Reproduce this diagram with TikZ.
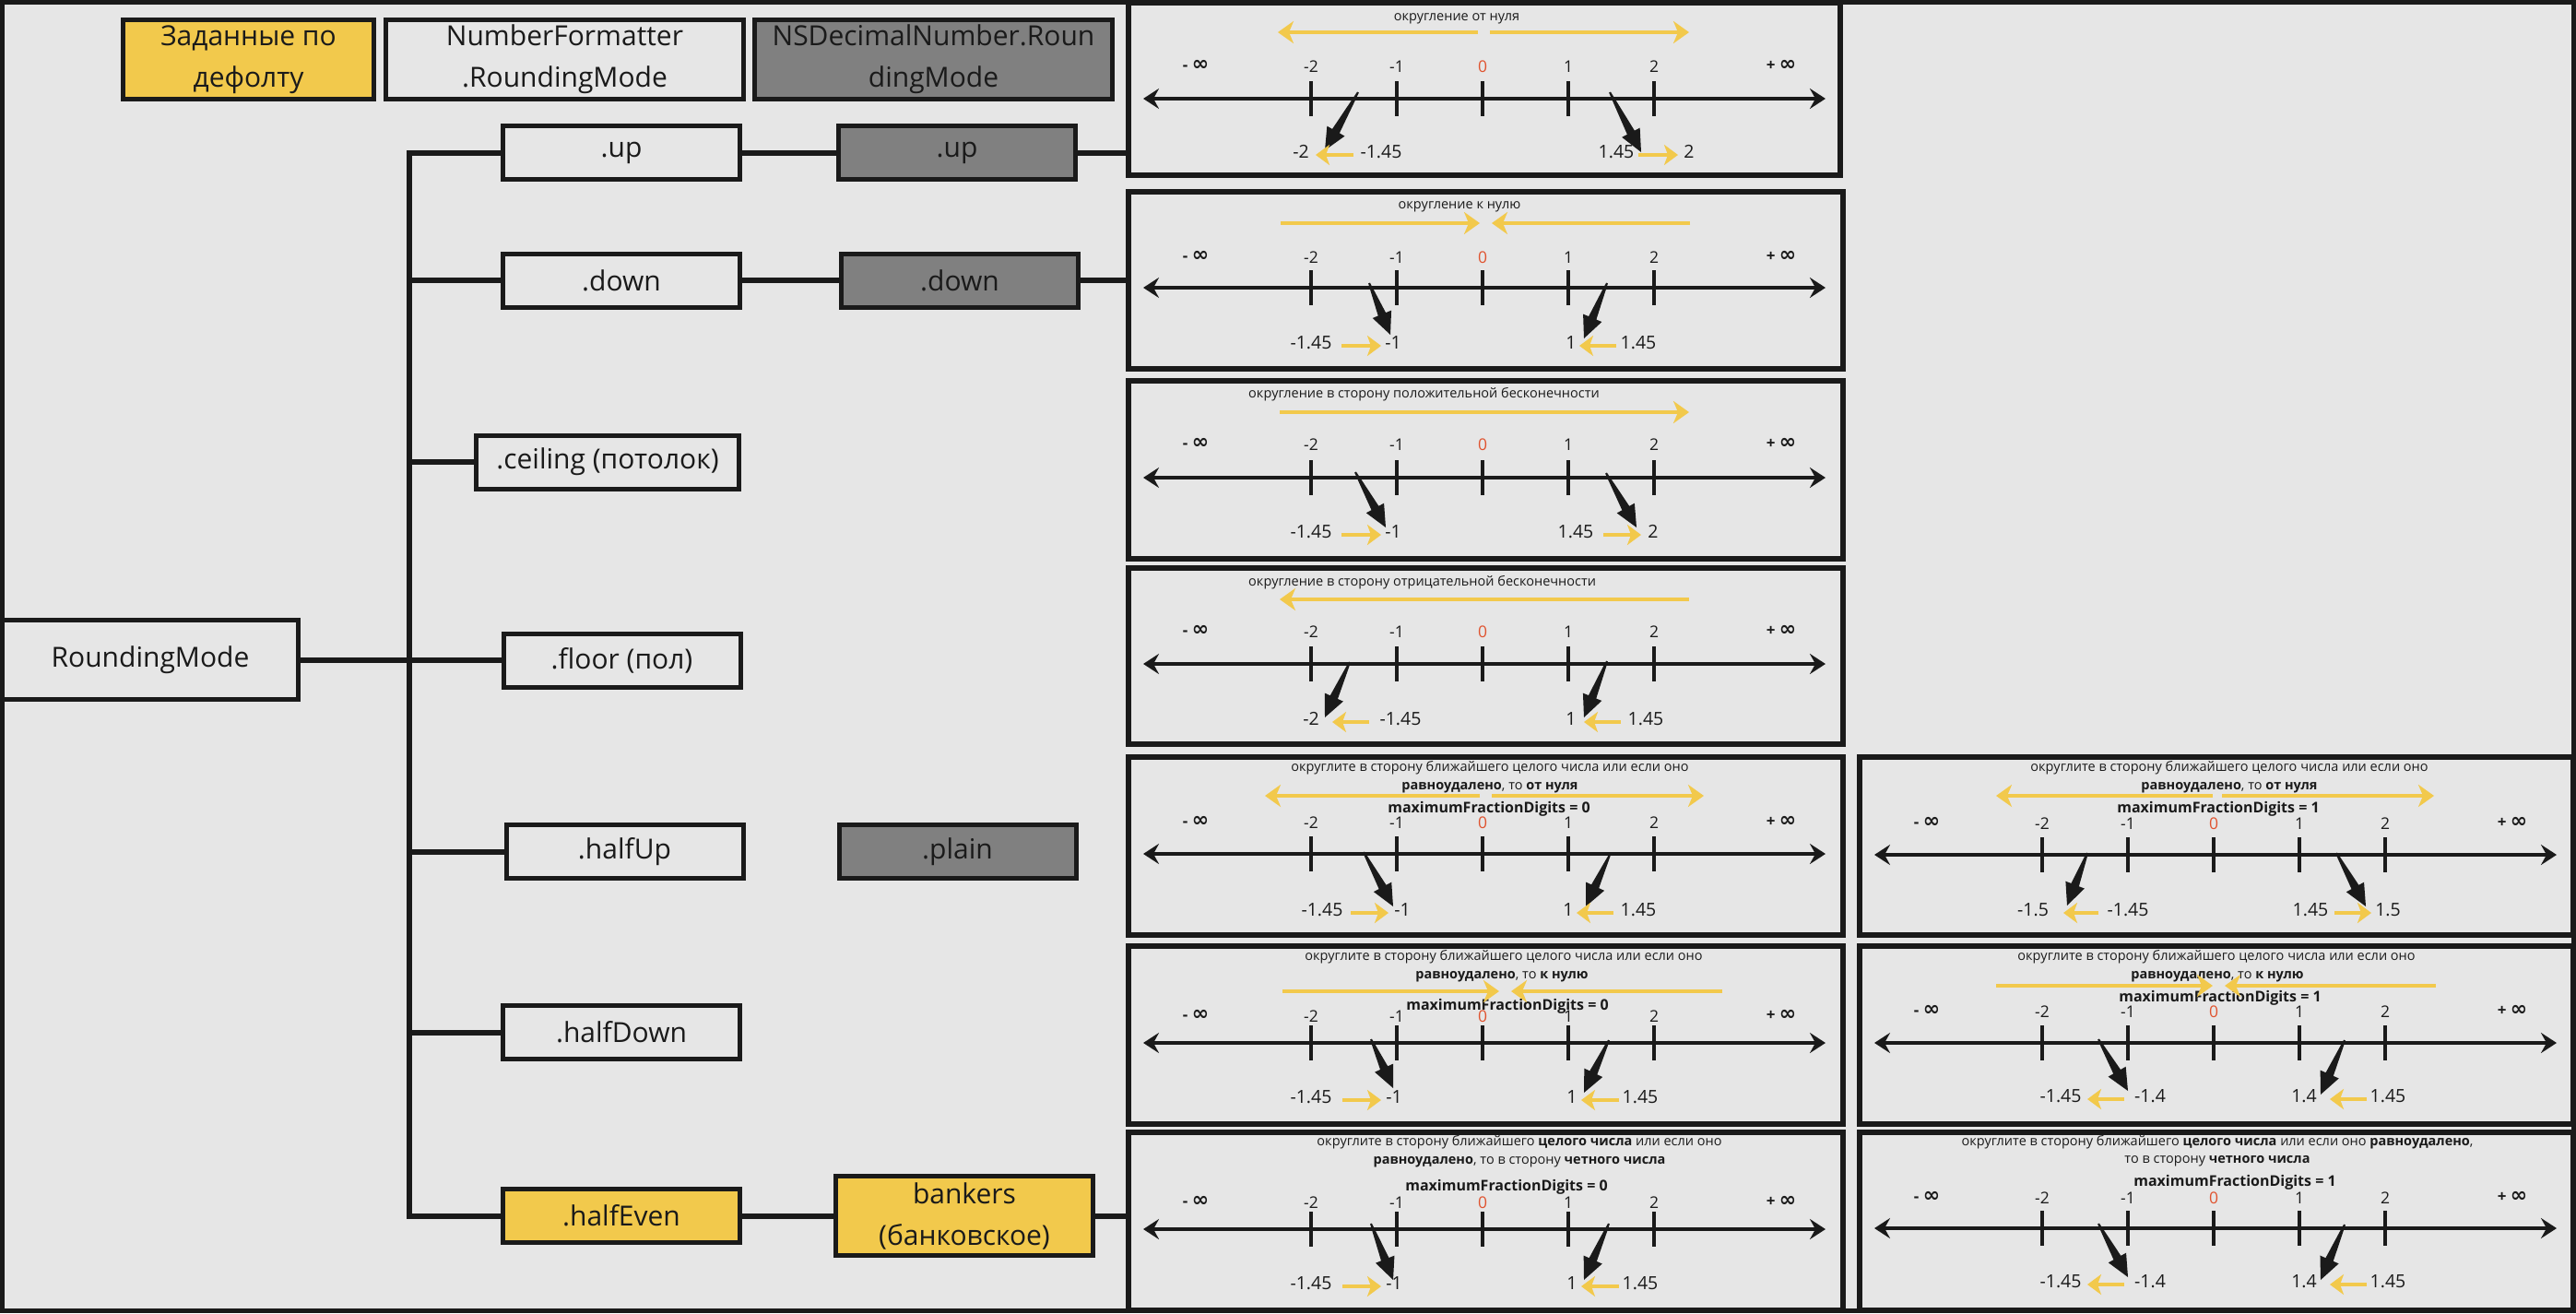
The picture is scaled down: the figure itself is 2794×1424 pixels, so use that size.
\documentclass[tikz,border=0pt]{standalone}
\usepackage{fontspec}
\setmainfont{Open Sans}
\newfontfamily\symfont{DejaVu Sans}
\usetikzlibrary{arrows.meta,calc,positioning}

\definecolor{ink}{HTML}{1A1A1A}
\definecolor{paper}{HTML}{E6E6E6}
\definecolor{sun}{HTML}{F2C94C}
\definecolor{slate}{HTML}{808080}
\definecolor{nought}{HTML}{E0532F}

% number line of one panel, in the panel's own frame
\newcommand\axisline[1]{%
  \draw[axis] (16,0) -- (756,0);
  \foreach \xx in {198,291,384,477,570} \draw[notch] (\xx,-19) -- (\xx,19);
  \foreach \xx/\vv in {198/-2,291/-1,477/1,570/2} \node[numlab] at (\xx,#1) {\vv};
  \node[numlab, text=nought] at (384,#1) {0};
  \node[inflab] at (73,#1-2) {- {\symfont\fontsize{22}{22}\selectfont ∞}};
  \node[inflab] at (708,#1-2) {+ {\symfont\fontsize{22}{22}\selectfont ∞}};
}

% black wedge arrow from #1 to #2
\newcommand\fatarrow[2]{%
  \coordinate (fa-s) at (#1);
  \coordinate (fa-t) at (#2);
  \coordinate (fa-b) at ($(fa-t)!24pt!(fa-s)$);
  \fill[ink] ($(fa-s)!1pt!90:(fa-t)$) -- ($(fa-b)!4.5pt!90:(fa-t)$)
    -- ($(fa-b)!11pt!90:(fa-t)$) -- (fa-t) -- ($(fa-b)!11pt!-90:(fa-t)$)
    -- ($(fa-b)!4.5pt!-90:(fa-t)$) -- ($(fa-s)!1pt!-90:(fa-t)$) -- cycle;
}

\begin{document}
\begin{tikzpicture}[
  x=1pt, y=-1pt,
  frame/.style={draw=ink, line width=5pt},
  box/.style={
    draw=ink,
    line width=5pt,
    fill=paper,
    text=ink,
    inner sep=0pt,
    align=center,
    font=\fontsize{30}{45}\selectfont,
    minimum width=257,
    minimum height=58
  },
  gbox/.style={box, fill=slate},
  ybox/.style={box, fill=sun},
  panel/.style={draw=ink, line width=6pt, inner sep=0pt, minimum width=775, minimum height=193},
  link/.style={draw=ink, line width=6pt},
  axis/.style={draw=ink, line width=3.5pt,
    {Stealth[length=17pt,width=22pt,inset=6pt]}-{Stealth[length=17pt,width=22pt,inset=6pt]}},
  notch/.style={draw=ink, line width=4pt},
  numlab/.style={text=ink, inner sep=0pt, text height=0.72em, text depth=0pt,
    font=\fontsize{17.5}{20}\selectfont},
  inflab/.style={numlab, font=\fontsize{17}{20}\selectfont\bfseries},
  val/.style={numlab, font=\fontsize{19.5}{22}\selectfont},
  note/.style={text=ink, inner sep=0pt, font=\fontsize{14.5}{17}\selectfont},
  bignote/.style={note, font=\fontsize{16}{19}\selectfont\bfseries},
  ray/.style={draw=sun, line width=4.5pt, -{Stealth[length=17pt,width=24pt,inset=5pt]}},
  hint/.style={draw=sun, line width=4.5pt, -{Stealth[length=15pt,width=22pt,inset=4pt]}}
]
\useasboundingbox (0,0) rectangle (2794,1424);
\fill[paper] (0,0) rectangle (2794,1424);
\draw[frame] (2.5,2.5) rectangle (2791.5,1421.5);

% legend
\node[ybox, minimum width=272, minimum height=86] (defaults) at (269.5,64.5) {Заданные по\\дефолту};
\node[box, minimum width=388, minimum height=86, right=8pt of defaults] (nfmode) {NumberFormatter\\.RoundingMode};
\node[gbox, minimum width=388, minimum height=86, right=7pt of nfmode] (nsmode) {NSDecimalNumber.Roun\\dingMode};

% NumberFormatter tree
\node[box, minimum width=321, minimum height=86] (rmode) at (163,715.5) {RoundingMode};
\node[box] (fup) at (674,165.5) {.up};
\node[box] (fdown) at (674,304) {.down};
\node[box, minimum width=285] (fceil) at (659,501) {.ceiling (потолок)};
\node[box] (ffloor) at (674.5,716) {.floor (пол)};
\node[box] (fhup) at (677.5,923.5) {.halfUp};
\node[box] (fhdown) at (674,1119.5) {.halfDown};
\node[ybox] (fheven) at (674,1318.5) {.halfEven};

% NSDecimalNumber counterparts
\node[gbox, right=102pt of fup] (nup) {.up};
\node[gbox, right=105pt of fdown] (ndown) {.down};
\node[gbox, right=99pt of fhup] (nplain) {.plain};
\node[ybox, minimum width=279, minimum height=86, right=99pt of fheven] (bankers) {bankers\\(банковское)};

% panels
\node[panel, minimum width=772, minimum height=187] (pup) at (1610,96.5) {};
\node[panel, minimum height=192] (pdown) at (1611.5,304) {};
\node[panel] (pceil) at (1611.5,509.5) {};
\node[panel, minimum height=191] (pfloor) at (1611.5,711.5) {};
\node[panel] (phup) at (1611.5,917.5) {};
\node[panel] (phdown) at (1611.5,1122.5) {};
\node[panel] (pheven) at (1611.5,1324.5) {};
\node[panel, minimum width=774] (phup2) at (2404,917.5) {};
\node[panel, minimum width=774] (phdown2) at (2404,1122.5) {};
\node[panel, minimum width=774] (pheven2) at (2404,1324.5) {};

\coordinate (spine) at (444,0);
\draw[link] (rmode.east) -- (spine |- rmode);
\draw[link] (fup.west) -- (spine |- fup) -- (spine |- fheven) -- (fheven.west);
\foreach \n in {fdown,fceil,ffloor,fhup,fhdown}
  \draw[link] (spine |- \n) -- (\n.west);
\draw[link] (fup) -- (nup);
\draw[link] (nup.east) -- (nup.east -| pup.west);
\draw[link] (fdown) -- (ndown);
\draw[link] (ndown.east) -- (ndown.east -| pdown.west);
\draw[link] (fheven) -- (bankers);
\draw[link] (bankers.east) -- (bankers.east -| pheven.west);

% .up
\begin{scope}[shift={(1224,107)}]
  \axisline{-32}
  \node[note] (up-say) at (356,-87) {округление от нуля};
  \draw[ray] (379,-72) -- (162,-72);
  \draw[ray] (392,-72) -- (608,-72);
  \fatarrow{249,-7}{213,56}
  \fatarrow{522,-7}{556,58}
  \node[val] (up-a) at (187,61) {-2};
  \draw[hint] (244,61) -- (203,61);
  \node[val] (up-b) at (274,61) {-1.45};
  \node[val] (up-c) at (529,61) {1.45};
  \draw[hint] (553,61) -- (596,61);
  \node[val] (up-d) at (608,61) {2};
\end{scope}

% .down
\begin{scope}[shift={(1224,312)}]
  \axisline{-30}
  \node[note] (down-say) at (359,-88) {округление к нулю};
  \draw[ray] (165,-70) -- (381,-70);
  \draw[ray] (609,-70) -- (394,-70);
  \fatarrow{261,-5}{284,51}
  \fatarrow{519,-5}{494,55}
  \node[val] (down-a) at (198,63) {-1.45};
  \draw[hint] (231,63) -- (274,63);
  \node[val] (down-b) at (287,63) {-1};
  \node[val] (down-c) at (480,63) {1};
  \draw[hint] (529,63) -- (489,63);
  \node[val] (down-d) at (553,63) {1.45};
\end{scope}

% .ceiling
\begin{scope}[shift={(1224,518)}]
  \axisline{-33}
  \node[note, anchor=west] (ceil-say) at (130,-90) {округление в сторону положительной бесконечности};
  \draw[ray] (164,-71) -- (608,-71);
  \fatarrow{246,-6}{279,54}
  \fatarrow{518,-5}{551,54}
  \node[val] (ceil-a) at (198,62) {-1.45};
  \draw[hint] (231,62) -- (274,62);
  \node[val] (ceil-b) at (287,62) {-1};
  \node[val] (ceil-c) at (485,62) {1.45};
  \draw[hint] (515,62) -- (556,62);
  \node[val] (ceil-d) at (569,62) {2};
\end{scope}

% .floor
\begin{scope}[shift={(1224,720)}]
  \axisline{-32}
  \node[note, anchor=west] (floor-say) at (130,-88) {округление в сторону отрицательной бесконечности};
  \draw[ray] (608,-70) -- (164,-70);
  \fatarrow{240,-2}{213,58}
  \fatarrow{519,-3}{494,58}
  \node[val] (floor-a) at (198,63) {-2};
  \draw[hint] (261,63) -- (221,63);
  \node[val] (floor-b) at (295,63) {-1.45};
  \node[val] (floor-c) at (480,63) {1};
  \draw[hint] (534,63) -- (494,63);
  \node[val] (floor-d) at (561,63) {1.45};
\end{scope}

% .halfUp, 0 digits
\begin{scope}[shift={(1224,926)}]
  \axisline{-31}
  \node[note] (hup-say) at (392,-93) {округлите в сторону ближайшего целого числа или если оно};
  \node[note] (hup-how) at (392,-72) {\textbf{равноудалено}, то \textbf{от нуля}};
  \node[bignote] (hup-dig) at (391,-49) {maximumFractionDigits = 0};
  \draw[ray] (381,-63) -- (148,-63);
  \draw[ray] (394,-63) -- (624,-63);
  \fatarrow{255,-2}{287,57}
  \fatarrow{522,1}{496,57}
  \node[val] (hup-a) at (210,64) {-1.45};
  \draw[hint] (241,64) -- (282,64);
  \node[val] (hup-b) at (297,64) {-1};
  \node[val] (hup-c) at (477,64) {1};
  \draw[hint] (526,64) -- (486,64);
  \node[val] (hup-d) at (553,64) {1.45};
\end{scope}

% .halfUp, 1 digit
\begin{scope}[shift={(2017,927)}]
  \axisline{-31}
  \node[note] (hup2-say) at (401,-94) {округлите в сторону ближайшего целого числа или если оно};
  \node[note] (hup2-how) at (401,-73) {\textbf{равноудалено}, то \textbf{от нуля}};
  \node[bignote] (hup2-dig) at (389,-50) {maximumFractionDigits = 1};
  \draw[ray] (383,-64) -- (148,-64);
  \draw[ray] (393,-64) -- (623,-64);
  \fatarrow{247,-2}{225,55}
  \fatarrow{517,-2}{549,56}
  \node[val] (hup2-a) at (188,63) {-1.5};
  \draw[hint] (259,63) -- (221,63);
  \node[val] (hup2-b) at (291,63) {-1.45};
  \node[val] (hup2-c) at (489,63) {1.45};
  \draw[hint] (515,63) -- (555,63);
  \node[val] (hup2-d) at (573,63) {1.5};
\end{scope}

% .halfDown, 0 digits
\begin{scope}[shift={(1224,1131)}]
  \axisline{-26}
  \node[note] (hdown-say) at (407,-93) {округлите в сторону ближайшего целого числа или если оно};
  \node[note] (hdown-how) at (405,-72) {\textbf{равноудалено}, то \textbf{к нулю}};
  \node[bignote] (hdown-dig) at (411,-40) {maximumFractionDigits = 0};
  \draw[ray] (167,-56) -- (402,-56);
  \draw[ray] (644,-56) -- (415,-56);
  \fatarrow{263,-4}{287,49}
  \fatarrow{521,-3}{494,54}
  \node[val] (hdown-a) at (198,62) {-1.45};
  \draw[hint] (232,62) -- (274,62);
  \node[val] (hdown-b) at (288,62) {-1};
  \node[val] (hdown-c) at (481,62) {1};
  \draw[hint] (532,62) -- (491,62);
  \node[val] (hdown-d) at (555,62) {1.45};
\end{scope}

% .halfDown, 1 digit
\begin{scope}[shift={(2017,1131)}]
  \axisline{-31}
  \node[note] (hdown2-say) at (387,-93) {округлите в сторону ближайшего целого числа или если оно};
  \node[note] (hdown2-how) at (388,-72) {\textbf{равноудалено}, то \textbf{к нулю}};
  \node[bignote] (hdown2-dig) at (391,-49) {maximumFractionDigits = 1};
  \draw[ray] (148,-62) -- (383,-62);
  \draw[ray] (625,-62) -- (396,-62);
  \fatarrow{259,-4}{291,52}
  \fatarrow{526,-3}{500,56}
  \node[val] (hdown2-a) at (218,61) {-1.45};
  \draw[hint] (287,61) -- (247,61);
  \node[val] (hdown2-b) at (315,61) {-1.4};
  \node[val] (hdown2-c) at (482,61) {1.4};
  \draw[hint] (550,61) -- (510,61);
  \node[val] (hdown2-d) at (573,61) {1.45};
\end{scope}

% .halfEven, 0 digits
\begin{scope}[shift={(1224,1333)}]
  \axisline{-26}
  \node[note] (heven-say) at (424,-94) {округлите в сторону ближайшего \textbf{целого числа} или если оно};
  \node[note] (heven-how) at (424,-73) {\textbf{равноудалено}, то в сторону \textbf{четного числа}};
  \node[bignote] (heven-dig) at (410,-46) {maximumFractionDigits = 0};
  \fatarrow{263,-6}{287,55}
  \fatarrow{521,-6}{494,55}
  \node[val] (heven-a) at (198,62) {-1.45};
  \draw[hint] (232,62) -- (274,62);
  \node[val] (heven-b) at (288,62) {-1};
  \node[val] (heven-c) at (481,62) {1};
  \draw[hint] (532,62) -- (491,62);
  \node[val] (heven-d) at (555,62) {1.45};
\end{scope}

% .halfEven, 1 digit
\begin{scope}[shift={(2017,1332)}]
  \axisline{-30}
  \node[note] (heven2-say) at (388,-93) {округлите в сторону ближайшего \textbf{целого числа} или если оно \textbf{равноудалено},};
  \node[note] (heven2-how) at (388,-73) {то в сторону \textbf{четного числа}};
  \node[bignote] (heven2-dig) at (407,-50) {maximumFractionDigits = 1};
  \fatarrow{259,-5}{291,53}
  \fatarrow{526,-4}{500,56}
  \node[val] (heven2-a) at (218,61) {-1.45};
  \draw[hint] (287,61) -- (247,61);
  \node[val] (heven2-b) at (315,61) {-1.4};
  \node[val] (heven2-c) at (482,61) {1.4};
  \draw[hint] (550,61) -- (510,61);
  \node[val] (heven2-d) at (573,61) {1.45};
\end{scope}

\end{tikzpicture}
\end{document}
